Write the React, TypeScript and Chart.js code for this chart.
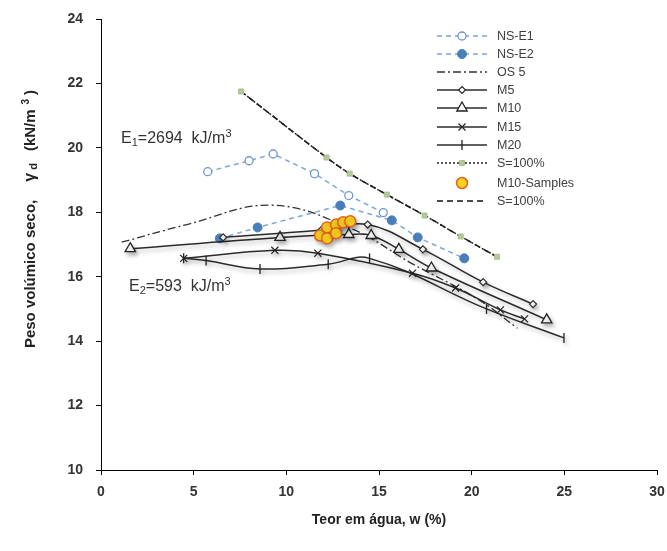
import React, { useEffect, useRef } from "react";
import { Chart, registerables } from "chart.js";

Chart.register(...registerables);

// ---------- data ----------
const xTickValues = [0, 5, 10, 15, 20, 25, 30];
const yTickValues = [10, 12, 14, 16, 18, 20, 22, 24];

const nsE1X = [5.76, 7.99, 9.29, 11.52, 13.37, 15.23];
const nsE1Y = [19.26, 19.6, 19.81, 19.2, 18.52, 17.99];

const nsE2X = [6.41, 8.45, 12.91, 15.69, 17.09, 19.6];
const nsE2Y = [17.19, 17.53, 18.21, 17.75, 17.22, 16.57];

const os5X = [1.11, 4.64, 9.19, 13.47, 16.81, 20.34, 22.47];
const os5Y = [17.07, 17.62, 18.22, 17.5, 16.4, 15.3, 14.4];

const m5X = [6.59, 11.89, 14.39, 17.37, 20.62, 23.31];
const m5Y = [17.22, 17.45, 17.62, 16.85, 15.83, 15.15];

const m10X = [1.58, 9.66, 13.37, 14.58, 16.07, 17.83, 24.05];
const m10Y = [16.87, 17.22, 17.31, 17.28, 16.85, 16.27, 14.66];

const m15X = [4.46, 9.38, 11.7, 16.81, 19.13, 21.55, 22.85];
const m15Y = [16.57, 16.82, 16.73, 16.11, 15.65, 14.97, 14.69];

const m20X = [4.46, 5.67, 8.58, 12.26, 14.49, 20.8, 24.98];
const m20Y = [16.57, 16.5, 16.24, 16.39, 16.57, 15.0, 14.1];

const s100X = [7.56, 12.17, 13.42, 15.42, 17.46, 19.41, 21.36];
const s100Y = [21.75, 19.7, 19.2, 18.55, 17.9, 17.25, 16.62];

const samplesX = [11.82, 12.2, 12.2, 12.69, 12.69, 13.07, 13.45];
const samplesY = [17.28, 17.53, 17.19, 17.62, 17.35, 17.69, 17.72];

const s100bX = [7.56, 12.17, 13.42, 15.42, 17.46, 19.41, 21.36];
const s100bY = [21.75, 19.7, 19.2, 18.55, 17.9, 17.25, 16.62];

const seriesLabels = ["NS-E1", "NS-E2", "OS 5", "M5", "M10", "M15", "M20", "S=100%", "M10-Samples", "S=100%"];

const xTitle = "Teor em água, w (%)";

const FONT = '"Liberation Sans", Arial, Helvetica, sans-serif';

const pts = (xs: number[], ys: number[]) => xs.map((x, i) => ({ x, y: ys[i] }));

function drawMarker(ctx: CanvasRenderingContext2D, style: string, x: number, y: number, r: number, fill: string, stroke: string, lw: number) {
  ctx.save();
  ctx.beginPath();
  ctx.lineWidth = lw;
  ctx.strokeStyle = stroke;
  ctx.fillStyle = fill;
  if (style === "circle") {
    ctx.arc(x, y, r, 0, Math.PI * 2);
    ctx.fill();
    ctx.stroke();
  } else if (style === "rectRot") {
    ctx.moveTo(x, y - r);
    ctx.lineTo(x + r, y);
    ctx.lineTo(x, y + r);
    ctx.lineTo(x - r, y);
    ctx.closePath();
    ctx.fill();
    ctx.stroke();
  } else if (style === "triangle") {
    let rad = 0;
    ctx.moveTo(x + Math.sin(rad) * r, y - Math.cos(rad) * r);
    rad += (2 * Math.PI) / 3;
    ctx.lineTo(x + Math.sin(rad) * r, y - Math.cos(rad) * r);
    rad += (2 * Math.PI) / 3;
    ctx.lineTo(x + Math.sin(rad) * r, y - Math.cos(rad) * r);
    ctx.closePath();
    ctx.fill();
    ctx.stroke();
  } else if (style === "crossRot") {
    const d = r * Math.SQRT1_2;
    ctx.moveTo(x - d, y - d);
    ctx.lineTo(x + d, y + d);
    ctx.moveTo(x + d, y - d);
    ctx.lineTo(x - d, y + d);
    ctx.stroke();
  } else if (style === "line") {
    ctx.moveTo(x, y - r);
    ctx.lineTo(x, y + r);
    ctx.stroke();
  } else if (style === "rect") {
    const s = Math.SQRT1_2 * r;
    ctx.rect(x - s, y - s, 2 * s, 2 * s);
    ctx.fill();
    ctx.stroke();
  }
  ctx.restore();
}

type Seg = { t: string; font: string; dy?: number; gap?: number };

function segWidth(ctx: CanvasRenderingContext2D, segs: Seg[]) {
  let total = 0;
  for (const s of segs) {
    ctx.font = s.font;
    total += ctx.measureText(s.t).width + (s.gap || 0);
  }
  return total;
}

function drawSegs(ctx: CanvasRenderingContext2D, segs: Seg[], x: number, y: number, center: boolean) {
  const total = segWidth(ctx, segs);
  let cx = center ? x - total / 2 : x;
  for (const s of segs) {
    cx += s.gap || 0;
    ctx.font = s.font;
    ctx.fillText(s.t, cx, y + (s.dy || 0));
    cx += ctx.measureText(s.t).width;
  }
}

const shadowSet = new Set([3, 4, 5, 6, 8]);

const shadowPlugin = {
  id: "shadows",
  beforeDatasetDraw(chart: any, args: any) {
    if (shadowSet.has(args.index)) {
      const ctx = chart.ctx;
      ctx.save();
      ctx.shadowColor = "rgba(0,0,0,0.28)";
      ctx.shadowBlur = 4;
      ctx.shadowOffsetX = 2;
      ctx.shadowOffsetY = 3;
    }
  },
  afterDatasetDraw(chart: any, args: any) {
    if (shadowSet.has(args.index)) {
      chart.ctx.restore();
    }
  },
};

const textPlugin = {
  id: "texts",
  afterDraw(chart: any) {
    const ctx: CanvasRenderingContext2D = chart.ctx;
    ctx.save();
    // legend
    const lx0 = 437;
    const lx1 = 487;
    const rows = [36, 54, 72, 90, 108, 127, 145, 163, 183, 201];
    chart.data.datasets.forEach((ds: any, i: number) => {
      const y = rows[i];
      if (ds.showLine !== false) {
        ctx.save();
        ctx.beginPath();
        ctx.strokeStyle = ds.borderColor;
        ctx.lineWidth = ds.borderWidth;
        ctx.setLineDash(ds.borderDash || []);
        ctx.moveTo(lx0, y);
        ctx.lineTo(lx1, y);
        ctx.stroke();
        ctx.restore();
      }
      if (ds.pointRadius > 0) {
        drawMarker(ctx, ds.pointStyle, (lx0 + lx1) / 2, y, ds.pointRadius, ds.pointBackgroundColor, ds.pointBorderColor, ds.pointBorderWidth);
      }
      ctx.fillStyle = "#404040";
      ctx.font = `12.5px ${FONT}`;
      ctx.textBaseline = "middle";
      ctx.textAlign = "left";
      ctx.fillText(ds.label, 497, y + 1);
    });

    // annotations
    ctx.fillStyle = "#333";
    ctx.textBaseline = "alphabetic";
    ctx.textAlign = "left";
    drawSegs(ctx, [
      { t: "E", font: `16px ${FONT}` },
      { t: "1", font: `11px ${FONT}`, dy: 3 },
      { t: "=2694  kJ/m", font: `16px ${FONT}` },
      { t: "3", font: `11px ${FONT}`, dy: -6 },
    ], 121, 143, false);
    drawSegs(ctx, [
      { t: "E", font: `16px ${FONT}` },
      { t: "2", font: `11px ${FONT}`, dy: 3 },
      { t: "=593  kJ/m", font: `16px ${FONT}` },
      { t: "3", font: `11px ${FONT}`, dy: -6 },
    ], 129, 291, false);

    // axis titles
    ctx.fillStyle = "#222";
    ctx.textBaseline = "middle";
    ctx.font = `bold 14px ${FONT}`;
    ctx.textAlign = "center";
    const ca = chart.chartArea;
    ctx.fillText(xTitle, (ca.left + ca.right) / 2, 520);

    ctx.save();
    ctx.translate(31, 219);
    ctx.rotate(-Math.PI / 2);
    ctx.textAlign = "left";
    drawSegs(ctx, [
      { t: "Peso volúmico seco,", font: `bold 15px ${FONT}` },
      { t: "γ", font: `bold 16px ${FONT}`, gap: 18 },
      { t: "d", font: `bold 11px ${FONT}`, dy: 3, gap: 3 },
      { t: "(kN/m", font: `bold 15px ${FONT}`, gap: 12 },
      { t: "3", font: `bold 10px ${FONT}`, dy: -5, gap: 5 },
      { t: ")", font: `bold 15px ${FONT}`, gap: 4 },
    ], 0, 0, true);
    ctx.restore();
    ctx.restore();
  },
};

export default function App() {
  const ref = useRef<HTMLCanvasElement | null>(null);

  useEffect(() => {
    if (!ref.current) return;
    const lineBase = { borderWidth: 1.5, fill: false, spanGaps: true };
    const chart = new Chart(ref.current, {
      type: "line",
      data: {
        datasets: [
          {
            ...lineBase, label: seriesLabels[0], data: pts(nsE1X, nsE1Y), order: 5,
            borderColor: "#7FA6D8", borderDash: [5, 4], tension: 0,
            pointStyle: "circle", pointRadius: 4, pointBackgroundColor: "#ffffff", pointBorderColor: "#6F98CE", pointBorderWidth: 1.3,
          },
          {
            ...lineBase, label: seriesLabels[1], data: pts(nsE2X, nsE2Y), order: 5,
            borderColor: "#7FA6D8", borderDash: [5, 4], tension: 0,
            pointStyle: "circle", pointRadius: 4.5, pointBackgroundColor: "#4A7EBB", pointBorderColor: "#4A7EBB", pointBorderWidth: 1,
          },
          {
            ...lineBase, label: seriesLabels[2], data: pts(os5X, os5Y), order: 6,
            borderColor: "#333333", borderWidth: 1.3, borderDash: [8, 3, 2, 3], tension: 0.4,
            pointStyle: "circle", pointRadius: 0, pointBackgroundColor: "#333", pointBorderColor: "#333", pointBorderWidth: 1,
          },
          {
            ...lineBase, label: seriesLabels[3], data: pts(m5X, m5Y), order: 3,
            borderColor: "#2b2b2b", tension: 0.4,
            pointStyle: "rectRot", pointRadius: 3.5, pointBackgroundColor: "#ffffff", pointBorderColor: "#2b2b2b", pointBorderWidth: 1.2,
          },
          {
            ...lineBase, label: seriesLabels[4], data: pts(m10X, m10Y), order: 3,
            borderColor: "#2b2b2b", tension: 0.4,
            pointStyle: "triangle", pointRadius: 6, pointBackgroundColor: "#ffffff", pointBorderColor: "#222", pointBorderWidth: 1.3,
          },
          {
            ...lineBase, label: seriesLabels[5], data: pts(m15X, m15Y), order: 3,
            borderColor: "#2b2b2b", tension: 0.4,
            pointStyle: "crossRot", pointRadius: 5, pointBackgroundColor: "#222", pointBorderColor: "#222", pointBorderWidth: 1.2,
          },
          {
            ...lineBase, label: seriesLabels[6], data: pts(m20X, m20Y), order: 3,
            borderColor: "#2b2b2b", tension: 0.4,
            pointStyle: "line", pointRotation: 90, pointRadius: 5, pointBackgroundColor: "#222", pointBorderColor: "#222", pointBorderWidth: 1.3,
          },
          {
            ...lineBase, label: seriesLabels[7], data: pts(s100X, s100Y), order: 2,
            borderColor: "#222222", borderDash: [2, 2], tension: 0.3,
            pointStyle: "rect", pointRadius: 3.5, pointBackgroundColor: "#B6C99B", pointBorderColor: "#A9BF8C", pointBorderWidth: 1,
          },
          {
            ...lineBase, label: seriesLabels[8], data: pts(samplesX, samplesY), order: 0, showLine: false,
            borderColor: "#E0601E",
            pointStyle: "circle", pointRadius: 5.5, pointBackgroundColor: "#FFD21F", pointBorderColor: "#E0601E", pointBorderWidth: 1.5,
          },
          {
            ...lineBase, label: seriesLabels[9], data: pts(s100bX, s100bY), order: 4,
            borderColor: "#111111", borderDash: [6, 4], tension: 0.3,
            pointStyle: "circle", pointRadius: 0, pointBackgroundColor: "#111", pointBorderColor: "#111", pointBorderWidth: 1,
          },
        ] as any,
      },
      options: {
        responsive: false,
        animation: false,
        devicePixelRatio: 1,
        layout: { padding: { top: 19, right: 10, left: 0, bottom: 0 } },
        plugins: { legend: { display: false }, tooltip: { enabled: false } },
        scales: {
          x: {
            type: "linear",
            min: 0,
            max: 30,
            afterFit: (s: any) => { s.height = 81; s.paddingRight = 0; s.paddingLeft = 0; },
            afterBuildTicks: (s: any) => { s.ticks = xTickValues.map((v) => ({ value: v })); },
            border: { display: true, color: "#000", width: 1 },
            grid: { display: true, drawOnChartArea: false, drawTicks: true, tickLength: 5, color: "#000" },
            ticks: { padding: 9, color: "#333", font: { family: FONT, size: 14, weight: "bold" }, maxRotation: 0 },
          },
          y: {
            type: "linear",
            min: 10,
            max: 24,
            afterFit: (s: any) => { s.width = 101; s.paddingTop = 0; s.paddingBottom = 0; },
            afterBuildTicks: (s: any) => { s.ticks = yTickValues.map((v) => ({ value: v })); },
            border: { display: true, color: "#000", width: 1 },
            grid: { display: true, drawOnChartArea: false, drawTicks: true, tickLength: 5, color: "#000" },
            ticks: { padding: 13, color: "#333", font: { family: FONT, size: 14, weight: "bold" } },
          },
        },
      } as any,
      plugins: [shadowPlugin, textPlugin],
    });
    return () => chart.destroy();
  }, []);

  return (
    <div style={{ position: "fixed", left: 0, top: 0, width: 667, height: 551, background: "#fff" }}>
      <canvas ref={ref} width={667} height={551} style={{ width: 667, height: 551, display: "block" }} />
    </div>
  );
}
